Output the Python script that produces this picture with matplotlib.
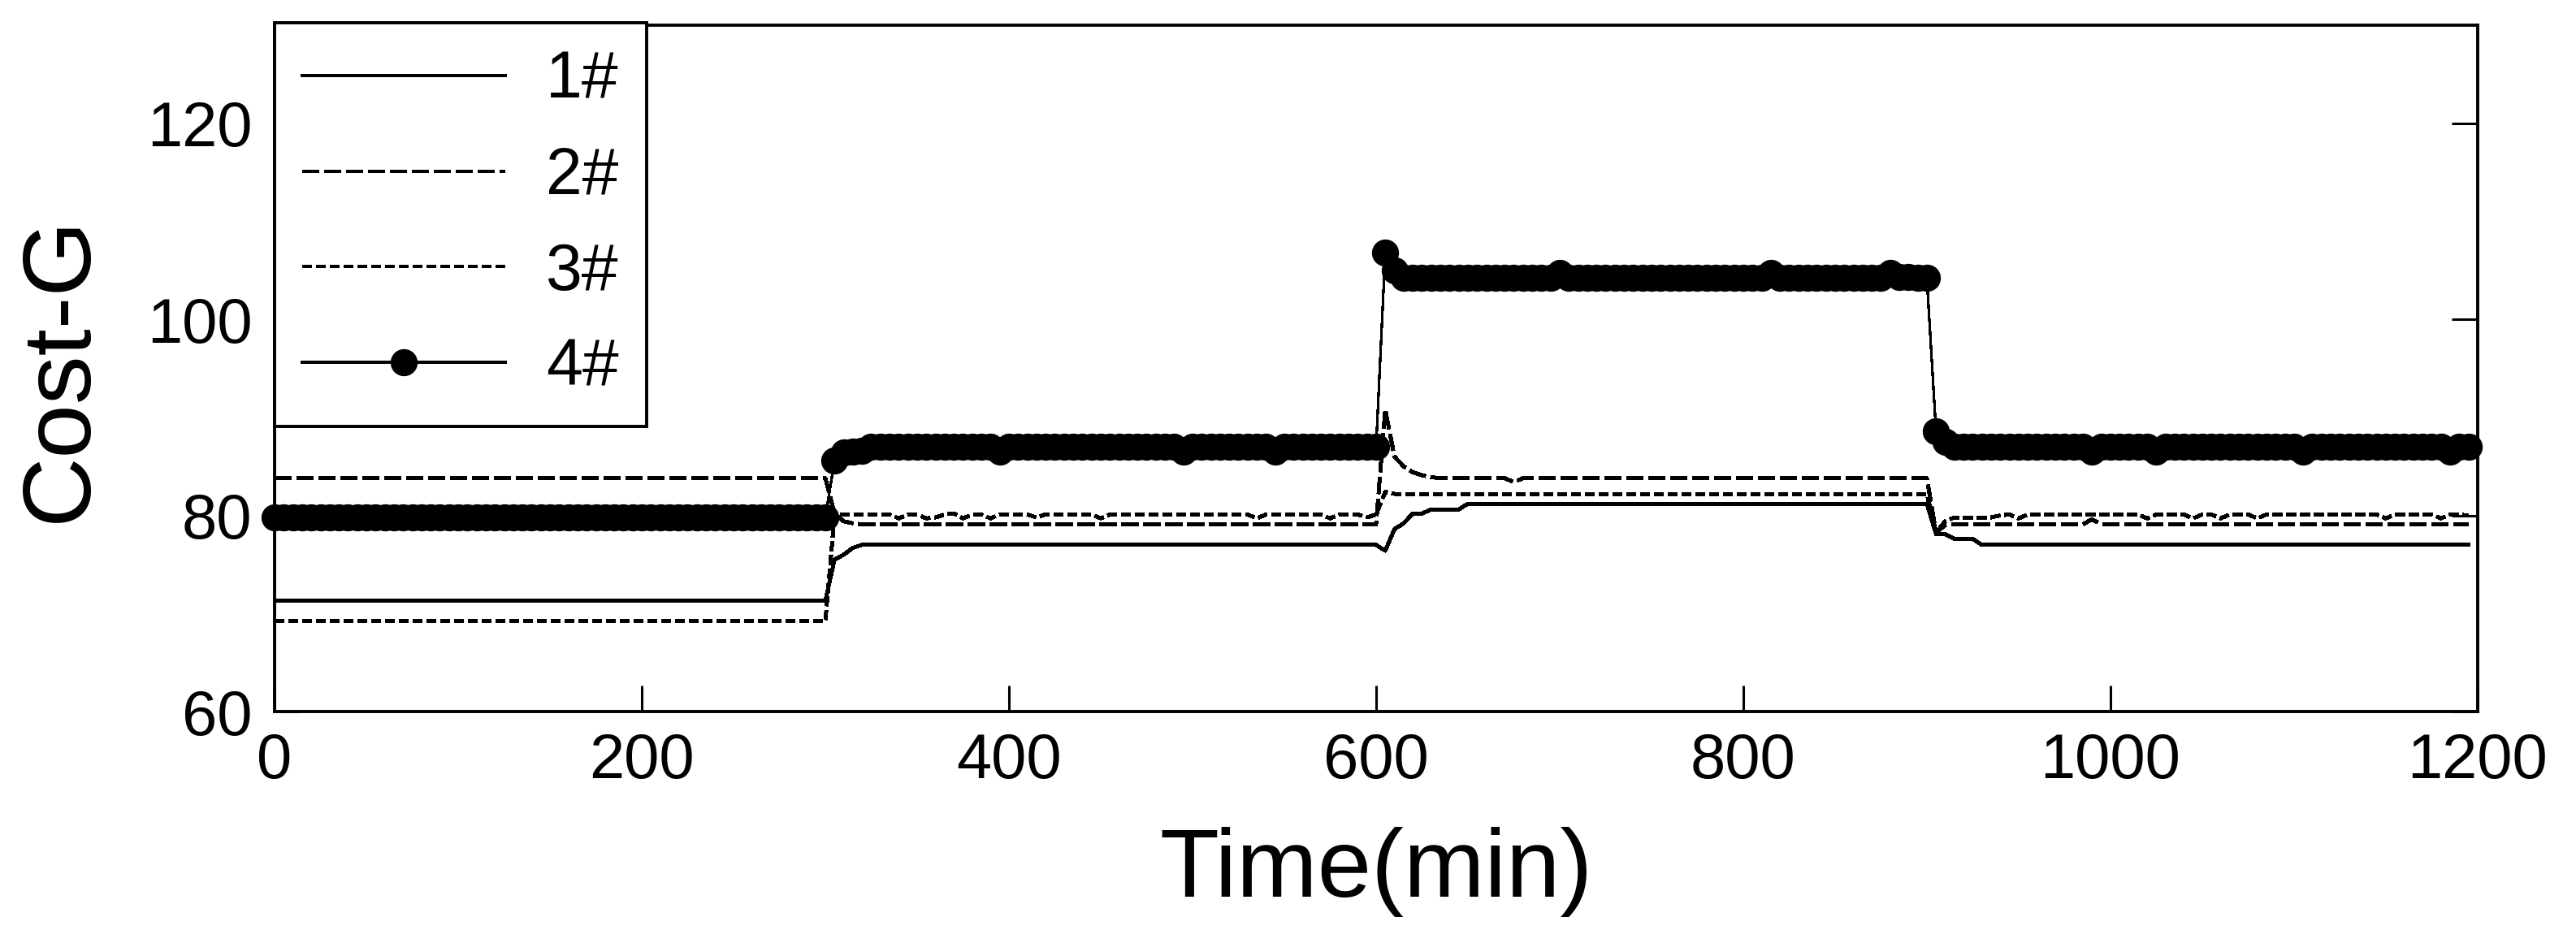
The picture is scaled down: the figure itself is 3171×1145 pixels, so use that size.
import numpy as np
import matplotlib
matplotlib.use("Agg")
from matplotlib import pyplot as plt

plt.rcParams['font.family'] = ['Liberation Sans', 'DejaVu Sans']
plt.rcParams['lines.scale_dashes'] = False
plt.rcParams['lines.antialiased'] = False

# sample grid, every 5 min
time_min = np.arange(0, 1200, 5)

labels = ["1#", "2#", "3#", "4#"]

cost_1 = [
    71.3, 71.3, 71.3, 71.3, 71.3, 71.3, 71.3, 71.3, 71.3, 71.3, 71.3, 71.3, 71.3, 71.3, 71.3, 71.3, 71.3, 71.3, 71.3, 71.3,
    71.3, 71.3, 71.3, 71.3, 71.3, 71.3, 71.3, 71.3, 71.3, 71.3, 71.3, 71.3, 71.3, 71.3, 71.3, 71.3, 71.3, 71.3, 71.3, 71.3,
    71.3, 71.3, 71.3, 71.3, 71.3, 71.3, 71.3, 71.3, 71.3, 71.3, 71.3, 71.3, 71.3, 71.3, 71.3, 71.3, 71.3, 71.3, 71.3, 71.3,
    71.3, 75.5, 76.0, 76.7, 77.0, 77.0, 77.0, 77.0, 77.0, 77.0, 77.0, 77.0, 77.0, 77.0, 77.0, 77.0, 77.0, 77.0, 77.0, 77.0,
    77.0, 77.0, 77.0, 77.0, 77.0, 77.0, 77.0, 77.0, 77.0, 77.0, 77.0, 77.0, 77.0, 77.0, 77.0, 77.0, 77.0, 77.0, 77.0, 77.0,
    77.0, 77.0, 77.0, 77.0, 77.0, 77.0, 77.0, 77.0, 77.0, 77.0, 77.0, 77.0, 77.0, 77.0, 77.0, 77.0, 77.0, 77.0, 77.0, 77.0,
    77.0, 76.4, 78.6, 79.2, 80.2, 80.2, 80.6, 80.6, 80.6, 80.6, 81.2, 81.2, 81.2, 81.2, 81.2, 81.2, 81.2, 81.2, 81.2, 81.2,
    81.2, 81.2, 81.2, 81.2, 81.2, 81.2, 81.2, 81.2, 81.2, 81.2, 81.2, 81.2, 81.2, 81.2, 81.2, 81.2, 81.2, 81.2, 81.2, 81.2,
    81.2, 81.2, 81.2, 81.2, 81.2, 81.2, 81.2, 81.2, 81.2, 81.2, 81.2, 81.2, 81.2, 81.2, 81.2, 81.2, 81.2, 81.2, 81.2, 81.2,
    81.2, 78.1, 78.1, 77.6, 77.6, 77.6, 77.0, 77.0, 77.0, 77.0, 77.0, 77.0, 77.0, 77.0, 77.0, 77.0, 77.0, 77.0, 77.0, 77.0,
    77.0, 77.0, 77.0, 77.0, 77.0, 77.0, 77.0, 77.0, 77.0, 77.0, 77.0, 77.0, 77.0, 77.0, 77.0, 77.0, 77.0, 77.0, 77.0, 77.0,
    77.0, 77.0, 77.0, 77.0, 77.0, 77.0, 77.0, 77.0, 77.0, 77.0, 77.0, 77.0, 77.0, 77.0, 77.0, 77.0, 77.0, 77.0, 77.0, 77.0,
]

cost_2 = [
    83.8, 83.8, 83.8, 83.8, 83.8, 83.8, 83.8, 83.8, 83.8, 83.8, 83.8, 83.8, 83.8, 83.8, 83.8, 83.8, 83.8, 83.8, 83.8, 83.8,
    83.8, 83.8, 83.8, 83.8, 83.8, 83.8, 83.8, 83.8, 83.8, 83.8, 83.8, 83.8, 83.8, 83.8, 83.8, 83.8, 83.8, 83.8, 83.8, 83.8,
    83.8, 83.8, 83.8, 83.8, 83.8, 83.8, 83.8, 83.8, 83.8, 83.8, 83.8, 83.8, 83.8, 83.8, 83.8, 83.8, 83.8, 83.8, 83.8, 83.8,
    83.8, 80.2, 79.4, 79.2, 79.1, 79.1, 79.1, 79.1, 79.1, 79.1, 79.1, 79.1, 79.1, 79.1, 79.1, 79.1, 79.1, 79.1, 79.1, 79.1,
    79.1, 79.1, 79.1, 79.1, 79.1, 79.1, 79.1, 79.1, 79.1, 79.1, 79.1, 79.1, 79.1, 79.1, 79.1, 79.1, 79.1, 79.1, 79.1, 79.1,
    79.1, 79.1, 79.1, 79.1, 79.1, 79.1, 79.1, 79.1, 79.1, 79.1, 79.1, 79.1, 79.1, 79.1, 79.1, 79.1, 79.1, 79.1, 79.1, 79.1,
    79.1, 90.8, 86.0, 85.0, 84.4, 84.1, 83.9, 83.8, 83.8, 83.8, 83.8, 83.8, 83.8, 83.8, 83.8, 83.4, 83.8, 83.8, 83.8, 83.8,
    83.8, 83.8, 83.8, 83.8, 83.8, 83.8, 83.8, 83.8, 83.8, 83.8, 83.8, 83.8, 83.8, 83.8, 83.8, 83.8, 83.8, 83.8, 83.8, 83.8,
    83.8, 83.8, 83.8, 83.8, 83.8, 83.8, 83.8, 83.8, 83.8, 83.8, 83.8, 83.8, 83.8, 83.8, 83.8, 83.8, 83.8, 83.8, 83.8, 83.8,
    83.8, 78.3, 79.0, 79.1, 79.1, 79.1, 79.1, 79.1, 79.1, 79.1, 79.1, 79.1, 79.1, 79.1, 79.1, 79.1, 79.1, 79.1, 79.6, 79.1,
    79.1, 79.1, 79.1, 79.1, 79.1, 79.1, 79.1, 79.1, 79.1, 79.1, 79.1, 79.1, 79.1, 79.1, 79.1, 79.1, 79.1, 79.1, 79.1, 79.1,
    79.1, 79.1, 79.1, 79.1, 79.1, 79.1, 79.1, 79.1, 79.1, 79.1, 79.1, 79.1, 79.1, 79.1, 79.1, 79.1, 79.1, 79.1, 79.1, 79.1,
]

cost_3 = [
    69.2, 69.2, 69.2, 69.2, 69.2, 69.2, 69.2, 69.2, 69.2, 69.2, 69.2, 69.2, 69.2, 69.2, 69.2, 69.2, 69.2, 69.2, 69.2, 69.2,
    69.2, 69.2, 69.2, 69.2, 69.2, 69.2, 69.2, 69.2, 69.2, 69.2, 69.2, 69.2, 69.2, 69.2, 69.2, 69.2, 69.2, 69.2, 69.2, 69.2,
    69.2, 69.2, 69.2, 69.2, 69.2, 69.2, 69.2, 69.2, 69.2, 69.2, 69.2, 69.2, 69.2, 69.2, 69.2, 69.2, 69.2, 69.2, 69.2, 69.2,
    69.2, 80.0, 80.1, 80.1, 80.1, 80.1, 80.1, 80.1, 79.7, 80.1, 80.1, 79.7, 79.8, 80.1, 80.2, 79.7, 80.1, 80.1, 79.7, 80.1,
    80.1, 80.1, 80.1, 79.8, 80.1, 80.1, 80.1, 80.1, 80.1, 80.1, 79.7, 80.1, 80.1, 80.1, 80.1, 80.1, 80.1, 80.1, 80.1, 80.1,
    80.1, 80.1, 80.1, 80.1, 80.1, 80.1, 80.1, 79.7, 80.1, 80.1, 80.1, 80.1, 80.1, 80.1, 80.1, 79.7, 80.1, 80.1, 80.1, 79.8,
    80.1, 82.4, 82.2, 82.2, 82.2, 82.2, 82.2, 82.2, 82.2, 82.2, 82.2, 82.2, 82.2, 82.2, 82.2, 82.2, 82.2, 82.2, 82.2, 82.2,
    82.2, 82.2, 82.2, 82.2, 82.2, 82.2, 82.2, 82.2, 82.2, 82.2, 82.2, 82.2, 82.2, 82.2, 82.2, 82.2, 82.2, 82.2, 82.2, 82.2,
    82.2, 82.2, 82.2, 82.2, 82.2, 82.2, 82.2, 82.2, 82.2, 82.2, 82.2, 82.2, 82.2, 82.2, 82.2, 82.2, 82.2, 82.2, 82.2, 82.2,
    82.2, 78.3, 79.4, 79.8, 79.8, 79.8, 79.8, 79.8, 80.0, 80.1, 79.7, 80.1, 80.1, 80.1, 80.1, 80.1, 80.1, 80.1, 80.1, 80.1,
    80.1, 80.1, 80.1, 80.1, 79.7, 80.1, 80.1, 80.1, 80.1, 79.7, 80.1, 80.1, 79.7, 80.1, 80.1, 80.1, 79.7, 80.1, 80.1, 80.1,
    80.1, 80.1, 80.1, 80.1, 80.1, 80.1, 80.1, 80.1, 80.1, 80.1, 79.7, 80.1, 80.1, 80.1, 80.1, 80.1, 79.7, 80.1, 80.1, 80.0,
]

cost_4 = [
    79.8, 79.8, 79.8, 79.8, 79.8, 79.8, 79.8, 79.8, 79.8, 79.8, 79.8, 79.8, 79.8, 79.8, 79.8, 79.8, 79.8, 79.8, 79.8, 79.8,
    79.8, 79.8, 79.8, 79.8, 79.8, 79.8, 79.8, 79.8, 79.8, 79.8, 79.8, 79.8, 79.8, 79.8, 79.8, 79.8, 79.8, 79.8, 79.8, 79.8,
    79.8, 79.8, 79.8, 79.8, 79.8, 79.8, 79.8, 79.8, 79.8, 79.8, 79.8, 79.8, 79.8, 79.8, 79.8, 79.8, 79.8, 79.8, 79.8, 79.8,
    79.8, 85.6, 86.4, 86.5, 86.6, 87.0, 87.0, 87.0, 87.0, 87.0, 87.0, 87.0, 87.0, 87.0, 87.0, 87.0, 87.0, 87.0, 87.0, 86.5,
    87.0, 87.0, 87.0, 87.0, 87.0, 87.0, 87.0, 87.0, 87.0, 87.0, 87.0, 87.0, 87.0, 87.0, 87.0, 87.0, 87.0, 87.0, 87.0, 86.5,
    87.0, 87.0, 87.0, 87.0, 87.0, 87.0, 87.0, 87.0, 87.0, 86.5, 87.0, 87.0, 87.0, 87.0, 87.0, 87.0, 87.0, 87.0, 87.0, 87.0,
    87.0, 106.8, 105.0, 104.2, 104.2, 104.2, 104.2, 104.2, 104.2, 104.2, 104.2, 104.2, 104.2, 104.2, 104.2, 104.2, 104.2, 104.2, 104.2, 104.2,
    104.7, 104.2, 104.2, 104.2, 104.2, 104.2, 104.2, 104.2, 104.2, 104.2, 104.2, 104.2, 104.2, 104.2, 104.2, 104.2, 104.2, 104.2, 104.2, 104.2,
    104.2, 104.2, 104.2, 104.7, 104.2, 104.2, 104.2, 104.2, 104.2, 104.2, 104.2, 104.2, 104.2, 104.2, 104.2, 104.2, 104.7, 104.3, 104.3, 104.2,
    104.2, 88.6, 87.5, 87.0, 87.0, 87.0, 87.0, 87.0, 87.0, 87.0, 87.0, 87.0, 87.0, 87.0, 87.0, 87.0, 87.0, 87.0, 86.5, 87.0,
    87.0, 87.0, 87.0, 87.0, 87.0, 86.5, 87.0, 87.0, 87.0, 87.0, 87.0, 87.0, 87.0, 87.0, 87.0, 87.0, 87.0, 87.0, 87.0, 87.0,
    87.0, 86.5, 87.0, 87.0, 87.0, 87.0, 87.0, 87.0, 87.0, 87.0, 87.0, 87.0, 87.0, 87.0, 87.0, 87.0, 87.0, 86.5, 87.0, 87.0,
]

x_ticks = [0, 200, 400, 600, 800, 1000, 1200]
y_ticks = [60, 80, 100, 120]

fig = plt.figure(figsize=(31.71, 11.45), dpi=100)
ax = fig.add_axes([0.1066, 0.2349, 0.8552, 0.738])

ax.plot(time_min, cost_1, color='k', linewidth=2.8, label=labels[0])
ax.plot(time_min, cost_2, color='k', linewidth=2.8, dashes=(15, 4.5), label=labels[1])
ax.plot(time_min, cost_3, color='k', linewidth=2.8, dashes=(8, 4), label=labels[2])
ax.plot(time_min, cost_4, color='k', linewidth=1.6, marker='o', markersize=23,
        label=labels[3], clip_on=False, zorder=3)

ax.set_xlim(0, 1200)
ax.set_ylim(60, 130)
ax.set_xticks(x_ticks)
ax.set_yticks(y_ticks)

for sp in ax.spines.values():
    sp.set_linewidth(2.8)

ax.tick_params(direction='in', length=23, width=2.2, top=False, right=True, labelsize=56)
ax.tick_params(axis='x', pad=18)
ax.tick_params(axis='y', pad=20)

ax.set_xlabel('Time(min)', fontsize=86, labelpad=32)
ax.set_ylabel('Cost-G', fontsize=86, labelpad=36)

leg = ax.legend(loc='upper left', bbox_to_anchor=(0, 1.0036), borderaxespad=0,
                fontsize=58, handlelength=3.1, handletextpad=0.63, labelspacing=0.52,
                borderpad=0.42, fancybox=False, edgecolor='k', framealpha=1)
leg.get_frame().set_linewidth(2.8)

plt.savefig('out.png')
plt.close()
